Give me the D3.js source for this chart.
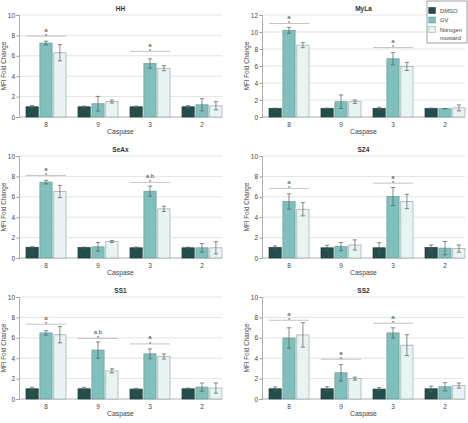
<!DOCTYPE html>
<html><head><meta charset="utf-8">
<script src="https://cdn.jsdelivr.net/npm/d3@7"></script>
<style>
body{margin:0;background:#fff;}
svg{display:block;font-family:"Liberation Sans",Arial,sans-serif;}
</style></head>
<body><svg id="c" width="468" height="423"></svg>
<script>
const caspases = ["8","9","3","2"];
const treatments = ["DMSO","GV","Nitrogen mustard"];
const colors = ["#244e4c","#7fbfbc","#e8f4f4"];
const strokes = ["#1a3a39","#6a9e9c","#9aa8a8"];

// means [DMSO, GV, NM] per caspase 8,9,3,2
const hhMean = [[1.0,1.0,1.0,1.0],[7.25,1.3,5.25,1.2],[6.3,1.52,4.78,1.1]];
const hhErr  = [[0.12,0.07,0.07,0.12],[0.18,0.72,0.45,0.6],[0.8,0.15,0.25,0.4]];
const hhSig  = [["8",7.93,"a"],["3",6.43,"a"]];

const mylaMean = [[1.0,1.0,1.0,1.0],[10.2,1.8,6.85,0.98],[8.45,1.8,5.95,1.07]];
const mylaErr  = [[0.05,0.05,0.15,0.05],[0.35,0.8,0.72,0.02],[0.3,0.2,0.48,0.35]];
const mylaSig  = [["8",11.0,"a"],["3",8.17,"a"]];

const seaxMean = [[1.05,1.02,1.0,1.0],[7.44,1.1,6.55,1.0],[6.52,1.62,4.82,1.0]];
const seaxErr  = [[0.05,0.05,0.07,0.06],[0.18,0.42,0.5,0.42],[0.6,0.1,0.26,0.6]];
const seaxSig  = [["8",8.1,"a"],["3",7.41,"a,b"]];

const sz4Mean = [[1.03,1.0,1.0,1.03],[5.54,1.12,6.03,0.97],[4.78,1.28,5.54,0.92]];
const sz4Err  = [[0.15,0.25,0.5,0.25],[0.75,0.4,0.88,0.65],[0.65,0.5,0.7,0.35]];
const sz4Sig  = [["8",6.82,"a"],["3",7.34,"a"]];

const ss1Mean = [[1.0,1.0,0.97,1.0],[6.48,4.8,4.43,1.17],[6.3,2.76,4.17,1.07]];
const ss1Err  = [[0.15,0.15,0.08,0.07],[0.22,0.8,0.48,0.4],[0.8,0.2,0.25,0.5]];
const ss1Sig  = [["8",7.33,"a"],["9",5.93,"a,b"],["3",5.4,"a"]];

const ss2Mean = [[1.0,1.0,0.97,1.0],[5.98,2.57,6.48,1.2],[6.28,2.0,5.28,1.32]];
const ss2Err  = [[0.18,0.2,0.15,0.25],[1.0,0.8,0.5,0.4],[1.2,0.15,1.02,0.25]];
const ss2Sig  = [["8",7.72,"a"],["9",3.9,"a"],["3",7.43,"a"]];

const panels = [
  {title:"HH",   mean:hhMean,   err:hhErr,   sig:hhSig,   ymax:10, col:0,row:0},
  {title:"MyLa", mean:mylaMean, err:mylaErr, sig:mylaSig, ymax:12, col:1,row:0},
  {title:"SeAx", mean:seaxMean, err:seaxErr, sig:seaxSig, ymax:10, col:0,row:1},
  {title:"SZ4",  mean:sz4Mean,  err:sz4Err,  sig:sz4Sig,  ymax:10, col:1,row:1},
  {title:"SS1",  mean:ss1Mean,  err:ss1Err,  sig:ss1Sig,  ymax:10, col:0,row:2},
  {title:"SS2",  mean:ss2Mean,  err:ss2Err,  sig:ss2Sig,  ymax:10, col:1,row:2}
];

const svg = d3.select("#c");
const txt = "#444";

panels.forEach(p => {
  const ox = p.col*243, oy = p.row*141;
  const g = svg.append("g").attr("transform",`translate(${ox},${oy})`);
  const axX = 19, right = 222, top = 15, bottom = 117;
  const y = d3.scaleLinear().domain([0,p.ymax]).range([bottom,top]);
  const x = d3.scaleBand().domain(caspases).range([20,228]).paddingInner(12/52).paddingOuter(6/52);
  const xs = d3.scaleBand().domain(d3.range(3)).range([0,x.bandwidth()]).paddingInner(0.12);
  const ticks = d3.range(0,p.ymax+0.1,2);

  // gridlines
  g.append("g").selectAll("line").data(ticks).join("line")
    .attr("x1",axX).attr("x2",right).attr("y1",d=>y(d)).attr("y2",d=>y(d))
    .attr("stroke",d=>d===0?"#9a9a9a":"#dcdcdc").attr("stroke-width",0.8);

  // y axis
  const ya = d3.axisLeft(y).tickValues(ticks).tickSize(2.5).tickPadding(1.5);
  const yg = g.append("g").attr("transform",`translate(${axX},0)`).call(ya);
  yg.select(".domain").attr("stroke","#9a9a9a").attr("stroke-width",0.8);
  yg.selectAll(".tick line").attr("stroke","#9a9a9a");
  yg.selectAll("text").attr("font-size",6.5).attr("fill",txt).attr("font-family",null);

  // x tick labels
  const xa = d3.axisBottom(x).tickSize(0).tickPadding(5);
  const xg = g.append("g").attr("transform",`translate(0,${bottom})`).call(xa);
  xg.select(".domain").remove();
  xg.selectAll("text").attr("font-size",6.5).attr("fill",txt).attr("font-family",null);

  // bars
  treatments.forEach((t,ti) => {
    g.append("g").selectAll("rect").data(caspases).join("rect")
      .attr("x",c=>x(c)+xs(ti)).attr("width",xs.bandwidth())
      .attr("y",(c,i)=>y(p.mean[ti][i])).attr("height",(c,i)=>y(0)-y(p.mean[ti][i]))
      .attr("fill",colors[ti]).attr("stroke",strokes[ti]).attr("stroke-width",0.7);
    // error bars
    const eg = g.append("g").attr("stroke", "#5a5a5a").attr("stroke-width",0.7);
    caspases.forEach((c,i) => {
      const cx = x(c)+xs(ti)+xs.bandwidth()/2;
      const m = p.mean[ti][i], e = p.err[ti][i];
      eg.append("line").attr("x1",cx).attr("x2",cx).attr("y1",y(m+e)).attr("y2",y(m-e));
      eg.append("line").attr("x1",cx-2.2).attr("x2",cx+2.2).attr("y1",y(m+e)).attr("y2",y(m+e));
      eg.append("line").attr("x1",cx-2.2).attr("x2",cx+2.2).attr("y1",y(m-e)).attr("y2",y(m-e));
    });
  });

  // significance
  p.sig.forEach(([c,v,lab]) => {
    const ly = y(v);
    g.append("line").attr("x1",x(c)).attr("x2",x(c)+x.bandwidth()).attr("y1",ly).attr("y2",ly)
      .attr("stroke","#b5b5b5").attr("stroke-width",0.8);
    const cx = x(c)+x.bandwidth()/2;
    g.append("text").attr("x",cx).attr("y",ly+1.8).attr("text-anchor","middle")
      .attr("font-size",5.5).attr("fill",txt).text("*");
    g.append("text").attr("x",cx).attr("y",ly-4.5).attr("text-anchor","middle")
      .attr("font-size",6).attr("fill",txt).text(lab);
  });

  // title
  g.append("text").attr("x",(axX+right)/2).attr("y",10.5).attr("text-anchor","middle")
    .attr("font-size",6.5).attr("font-weight","bold").attr("fill","#333").text(p.title);
  // axis titles
  g.append("text").attr("x",(axX+right)/2).attr("y",133.5).attr("text-anchor","middle")
    .attr("font-size",6.8).attr("fill",txt).text("Caspase");
  g.append("text").attr("transform",`translate(${axX-13},${(top+bottom)/2}) rotate(-90)`)
    .attr("text-anchor","middle").attr("font-size",6.3).attr("fill",txt).text("MFI Fold Change");
});

// legend
const lg = svg.append("g").attr("transform","translate(427,1)");
lg.append("rect").attr("x",0).attr("y",0).attr("width",40).attr("height",42)
  .attr("fill","#fff").attr("stroke","#8a8a8a").attr("stroke-width",0.8);
const legY = [6.5,16,25.5];
treatments.forEach((t,i) => {
  lg.append("rect").attr("x",1.8).attr("y",legY[i]).attr("width",6.5).attr("height",6)
    .attr("fill",colors[i]).attr("stroke",strokes[i]).attr("stroke-width",0.6);
  const words = t==="Nitrogen mustard" ? ["Nitrogen","mustard"] : [t];
  words.forEach((w,j) => {
    lg.append("text").attr("x",13).attr("y",legY[i]+5+j*8.3).attr("font-size",5.8)
      .attr("fill",txt).text(w);
  });
});
</script></body></html>
